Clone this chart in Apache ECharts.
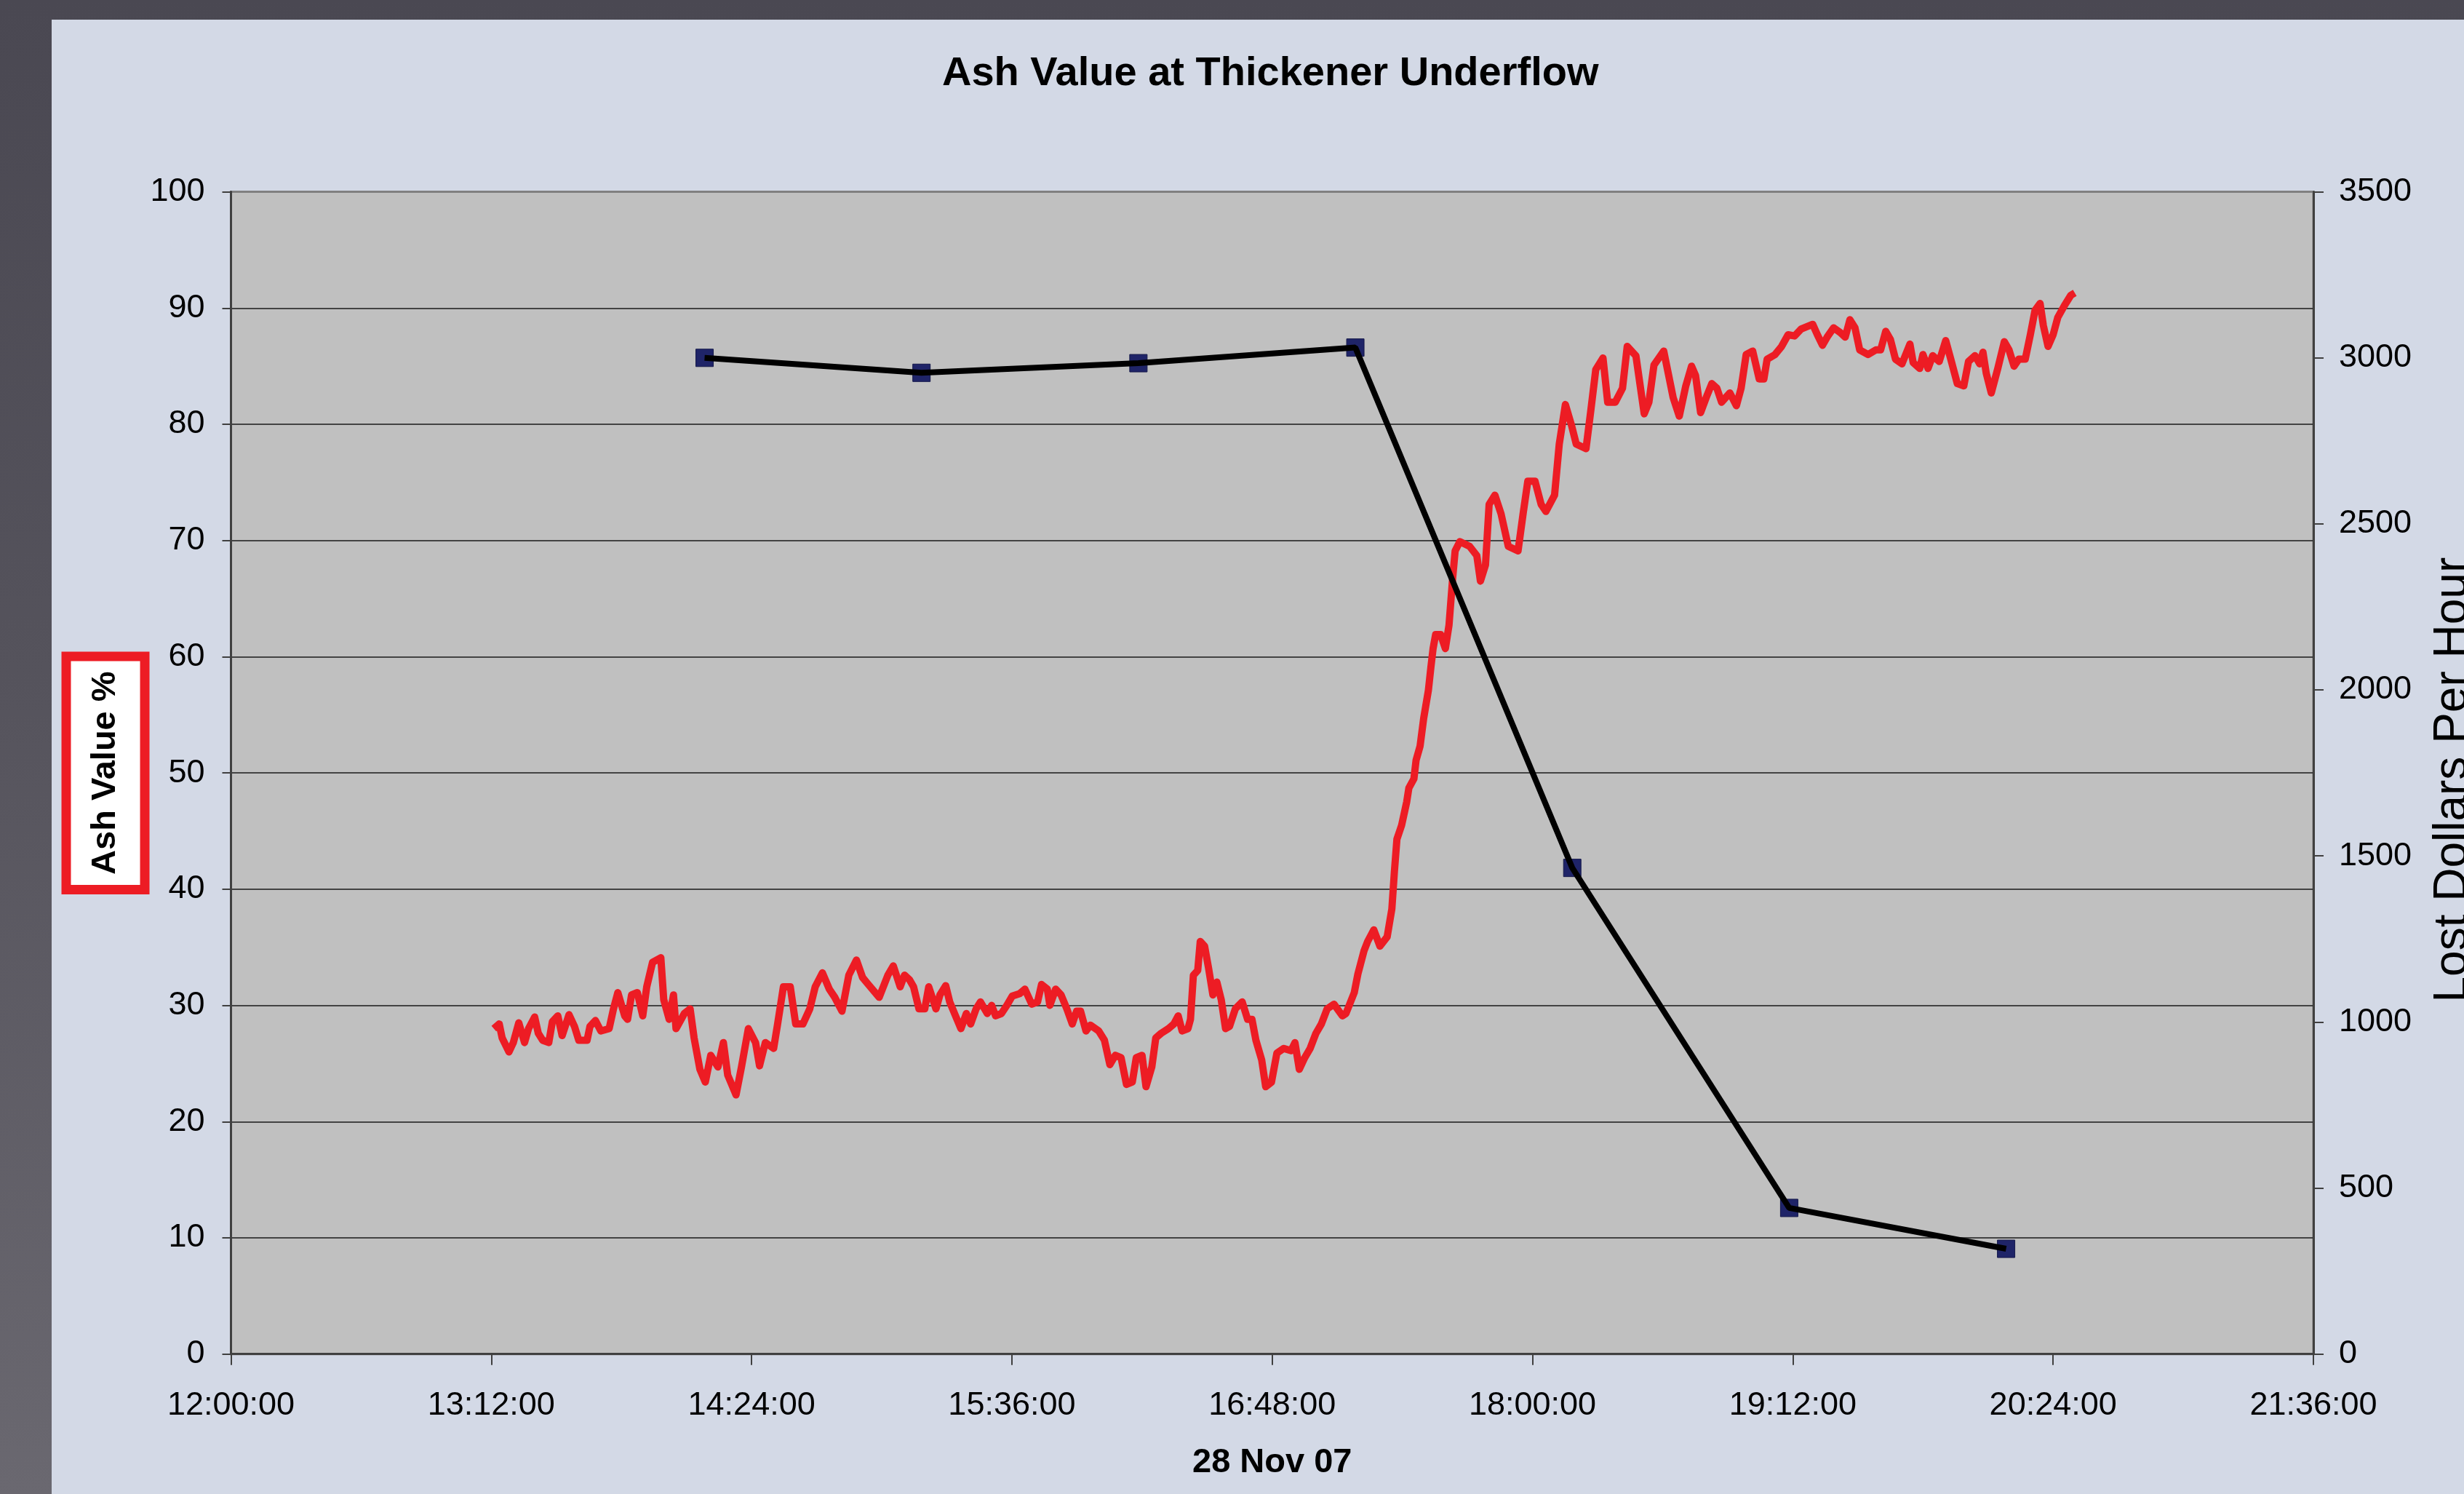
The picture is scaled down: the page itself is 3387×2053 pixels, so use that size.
<!DOCTYPE html>
<html>
<head>
<meta charset="utf-8">
<title>Ash Value at Thickener Underflow</title>
<script src="https://cdn.jsdelivr.net/npm/echarts@6/dist/echarts.min.js"></script>
<style>
  html, body { margin: 0; padding: 0; }
  body {
    width: 3387px; height: 2053px; overflow: hidden; position: relative;
    background: linear-gradient(180deg, #4a4852 0%, #55535c 45%, #6a6870 100%);
  }
  /* light panel the chart sits on */
  #panel { position: absolute; left: 71px; top: 27px; right: 0; bottom: 0; background: #D3D9E6; }
  #main { position: absolute; left: 0; top: 0; width: 3387px; height: 2053px; }
</style>
</head>
<body>
<div id="panel"></div>
<div id="main"></div>
<script>
  // x values are minutes after 12:00:00 on 28 Nov 07
  var xTickLabels = ['12:00:00', '13:12:00', '14:24:00', '15:36:00', '16:48:00', '18:00:00', '19:12:00', '20:24:00', '21:36:00'];
  var leftTicks = [0, 10, 20, 30, 40, 50, 60, 70, 80, 90, 100];
  var rightTicks = [0, 500, 1000, 1500, 2000, 2500, 3000, 3500];

  // Ash Value % (red trace, left axis)
  var ashMinutes = [
    72.7, 74.2, 75.0, 76.9, 78.1, 79.6, 81.2, 82.3, 84.0, 85.0, 86.2, 87.9, 88.9, 90.4, 91.6, 93.5, 95.0, 96.2, 98.5, 99.3,
    100.8, 102.3, 104.6, 105.8, 107.0, 108.9, 109.7, 110.8, 112.4, 113.9, 115.0, 116.6, 118.9, 119.7, 121.2, 122.4, 123.1, 125.4, 127.0, 128.1,
    129.7, 131.2, 132.7, 134.7, 136.2, 137.4, 139.7, 141.2, 143.1, 145.1, 146.2, 147.8, 150.1, 151.2, 152.8, 154.7, 156.2, 158.2, 160.1, 161.6,
    163.6, 165.5, 167.0, 169.0, 170.9, 173.0, 174.7, 176.3, 179.3, 181.7, 183.2, 185.1, 186.3, 187.7, 188.8, 190.3, 191.9, 193.0, 195.0, 196.1,
    197.7, 198.8, 200.4, 201.9, 203.4, 204.6, 206.1, 207.3, 209.2, 210.4, 211.5, 213.1, 214.6, 216.1, 218.1, 219.6, 221.5, 223.1, 224.2, 225.8,
    226.5, 228.1, 229.6, 231.2, 232.7, 233.9, 235.0, 236.5, 237.7, 240.0, 241.6, 243.1, 244.6, 246.2, 247.7, 249.3, 250.4, 252.0, 253.1, 254.7,
    255.8, 257.3, 259.3, 260.8, 262.0, 263.1, 264.7, 265.4, 266.2, 267.4, 268.1, 269.3, 270.4, 271.6, 272.7, 273.9, 275.1, 276.2, 277.8, 279.7,
    281.2, 282.4, 283.5, 285.1, 286.2, 287.8, 289.3, 291.2, 293.2, 294.3, 295.5, 297.0, 298.5, 300.1, 301.6, 303.2, 305.1, 307.4, 308.4, 310.7,
    311.7, 313.4, 314.4, 316.1, 317.8, 319.8, 321.1, 321.8, 322.5, 323.8, 325.2, 325.8, 327.2, 327.8, 328.9, 329.9, 331.2, 331.9, 332.5, 333.2,
    334.6, 335.9, 336.9, 337.9, 338.6, 339.9, 342.6, 344.6, 345.6, 347.0, 348.0, 349.6, 351.3, 353.3, 356.0, 357.4, 358.7, 360.7, 362.4, 363.7,
    366.1, 367.4, 369.1, 370.8, 372.1, 374.8, 376.1, 377.5, 379.5, 380.8, 382.9, 384.9, 386.2, 388.6, 390.9, 392.2, 393.6, 396.3, 397.6, 398.9,
    400.6, 402.4, 404.0, 405.1, 406.5, 408.3, 409.6, 411.0, 412.3, 414.6, 416.4, 417.7, 419.1, 420.9, 422.7, 424.0, 424.9, 427.1, 428.9, 430.7,
    432.5, 434.3, 437.5, 438.8, 440.2, 441.5, 443.3, 445.1, 446.5, 447.8, 449.2, 450.5, 452.8, 455.0, 456.3, 457.7, 459.0, 460.4, 462.2, 464.4,
    465.3, 467.1, 468.0, 469.4, 470.7, 472.5, 474.3, 475.7, 477.5, 479.3, 480.6, 482.4, 483.7, 484.6, 485.5, 486.9, 488.7, 490.5, 491.8, 493.2,
    494.5, 496.3, 497.7, 499.0, 500.4, 501.3, 502.6, 504.0, 505.3, 507.1, 508.9, 510.0
  ];
  var ashValues = [
    28.0, 28.4, 27.2, 26.0, 26.8, 28.5, 26.8, 28.0, 29.0, 27.6, 27.0, 26.8, 28.6, 29.1, 27.4, 29.2, 28.2, 27.0, 27.0, 28.2,
    28.7, 27.8, 28.0, 29.7, 31.1, 29.1, 28.8, 30.9, 31.1, 29.1, 31.6, 33.7, 34.1, 30.5, 28.8, 30.9, 28.0, 29.3, 29.7, 27.2,
    24.5, 23.4, 25.7, 24.7, 26.8, 24.0, 22.3, 24.7, 28.0, 26.8, 24.8, 26.8, 26.3, 28.4, 31.6, 31.6, 28.4, 28.4, 29.7, 31.6,
    32.8, 31.4, 30.7, 29.5, 32.6, 33.9, 32.4, 31.8, 30.7, 32.6, 33.4, 31.6, 32.6, 32.2, 31.6, 29.7, 29.7, 31.6, 29.7, 30.9,
    31.7, 30.3, 29.1, 28.0, 29.3, 28.4, 29.7, 30.3, 29.3, 30.0, 29.1, 29.3, 30.0, 30.8, 31.0, 31.4, 30.1, 30.3, 31.8, 31.4,
    30.0, 31.4, 30.9, 29.7, 28.4, 29.5, 29.5, 27.8, 28.3, 27.8, 27.0, 24.9, 25.7, 25.5, 23.2, 23.4, 25.5, 25.7, 23.0, 24.7,
    27.2, 27.6, 28.0, 28.4, 29.1, 27.8, 28.0, 28.8, 32.6, 33.0, 35.5, 35.1, 33.2, 30.9, 32.0, 30.5, 28.0, 28.2, 29.7, 30.3,
    28.8, 28.8, 27.0, 25.3, 23.0, 23.4, 25.9, 26.3, 26.1, 26.8, 24.5, 25.5, 26.3, 27.6, 28.4, 29.7, 30.1, 29.1, 29.3, 31.1,
    32.7, 34.7, 35.5, 36.5, 35.1, 35.9, 38.3, 41.5, 44.3, 45.5, 47.5, 48.7, 49.5, 51.1, 52.3, 54.7, 57.1, 59.1, 60.7, 61.9,
    61.9, 60.7, 62.7, 66.7, 69.1, 69.9, 69.5, 68.7, 66.5, 67.9, 73.1, 73.9, 72.3, 69.5, 69.1, 72.3, 75.1, 75.1, 73.1, 72.5,
    73.9, 78.3, 81.7, 79.9, 78.3, 77.9, 81.1, 84.7, 85.7, 81.9, 81.9, 83.1, 86.7, 85.9, 80.9, 81.9, 85.1, 86.3, 84.3, 82.3,
    80.7, 83.3, 85.0, 84.2, 81.0, 82.5, 83.5, 83.1, 81.9, 82.7, 81.6, 83.1, 86.0, 86.3, 83.9, 83.9, 85.6, 86.0, 86.7, 87.7,
    87.6, 88.2, 88.6, 87.7, 86.8, 87.5, 88.3, 87.9, 87.5, 89.0, 88.3, 86.4, 86.0, 86.4, 86.4, 88.0, 87.3, 85.6, 85.2, 86.9,
    85.3, 84.8, 86.0, 84.8, 85.9, 85.4, 87.2, 85.6, 83.5, 83.3, 85.4, 85.9, 85.2, 86.2, 84.4, 82.7, 84.8, 87.1, 86.4, 85.0,
    85.6, 85.6, 87.7, 89.8, 90.4, 88.5, 86.7, 87.7, 89.2, 90.2, 91.1, 91.3
  ];

  // Lost Dollars Per Hour (black trace, right axis), hourly samples
  var lostMinutes = [131, 191, 251, 311, 371, 431, 491];
  var lostValues = [3000, 2955, 2984, 3031, 1464, 440, 317];

  var ashData = ashMinutes.map(function (m, i) { return [m, ashValues[i]]; });
  var lostData = lostMinutes.map(function (m, i) { return [m, lostValues[i]]; });

  var FONT = '"Liberation Sans", Arial, sans-serif';
  var plain = function (v) { return String(v); };

  var myChart = echarts.init(document.getElementById('main'), null, { renderer: 'canvas' });
  var option = {
    backgroundColor: 'transparent',
    animation: false,
    title: {
      text: 'Ash Value at Thickener Underflow',
      left: 1295,
      top: 74,
      padding: 0,
      textStyle: { fontFamily: FONT, fontSize: 56, fontWeight: 'bold', color: '#000' }
    },
    grid: {
      left: 317.5,
      right: 207,
      top: 263.6,
      bottom: 192.3,
      outerBoundsMode: 'none',
      show: true,
      backgroundColor: '#C0C0C0',
      borderColor: '#808080',
      borderWidth: 3
    },
    xAxis: {
      type: 'value',
      min: 0,
      max: 576,
      interval: 72,
      name: '28 Nov 07',
      nameLocation: 'middle',
      nameGap: 126,
      nameMoveOverlap: false,
      nameTextStyle: { fontFamily: FONT, fontSize: 47, fontWeight: 'bold', color: '#000' },
      axisLine: { show: true, lineStyle: { color: '#404040', width: 3 } },
      axisTick: { show: true, length: 15, lineStyle: { color: '#404040', width: 2 } },
      axisLabel: {
        margin: 48,
        fontFamily: FONT, fontSize: 45, color: '#000',
        formatter: function (v) { return xTickLabels[Math.round(v / 72)]; }
      },
      splitLine: { show: false }
    },
    yAxis: [
      {
        type: 'value',
        position: 'left',
        min: leftTicks[0],
        max: leftTicks[leftTicks.length - 1],
        interval: 10,
        name: 'Ash Value %',
        nameLocation: 'middle',
        nameRotate: 90,
        nameGap: 125,
        nameMoveOverlap: false,
        nameTextStyle: {
          fontFamily: FONT, fontSize: 47, fontWeight: 'bold', color: '#000',
          backgroundColor: '#FFFFFF',
          borderColor: '#ED1C24',
          borderWidth: 13,
          padding: [24, 14, 24, 14]
        },
        axisLine: { show: true, lineStyle: { color: '#404040', width: 3 } },
        axisTick: { show: true, length: 12, lineStyle: { color: '#404040', width: 2 } },
        axisLabel: { margin: 36, fontFamily: FONT, fontSize: 45, color: '#000', formatter: plain },
        splitLine: { show: true, showMinLine: false, showMaxLine: false, lineStyle: { color: '#1a1a1a', width: 1.5 } }
      },
      {
        type: 'value',
        position: 'right',
        min: rightTicks[0],
        max: rightTicks[rightTicks.length - 1],
        interval: 500,
        name: 'Lost Dollars Per Hour',
        nameLocation: 'middle',
        nameRotate: 90,
        nameGap: 160,
        nameMoveOverlap: false,
        nameTextStyle: { fontFamily: FONT, fontSize: 64, color: '#000', padding: [0, 19, 0, 0] },
        axisLine: { show: true, lineStyle: { color: '#404040', width: 3 } },
        axisTick: { show: true, length: 14, lineStyle: { color: '#404040', width: 2 } },
        axisLabel: { margin: 35, fontFamily: FONT, fontSize: 45, color: '#000', formatter: plain },
        splitLine: { show: false }
      }
    ],
    series: [
      {
        name: 'Ash Value %',
        type: 'line',
        yAxisIndex: 0,
        data: ashData,
        showSymbol: false,
        z: 1,
        lineStyle: { color: '#ED1C24', width: 10, join: 'round' }
      },
      {
        // markers sit under the black line
        name: 'Lost markers',
        type: 'scatter',
        yAxisIndex: 1,
        data: lostData,
        symbol: 'rect',
        symbolSize: 24,
        z: 2,
        itemStyle: { color: '#1F2468', opacity: 1, borderColor: '#14184a', borderWidth: 1 }
      },
      {
        name: 'Lost Dollars Per Hour',
        type: 'line',
        yAxisIndex: 1,
        data: lostData,
        showSymbol: false,
        z: 3,
        lineStyle: { color: '#000', width: 8 }
      }
    ]
  };
  myChart.setOption(option);
</script>
</body>
</html>
